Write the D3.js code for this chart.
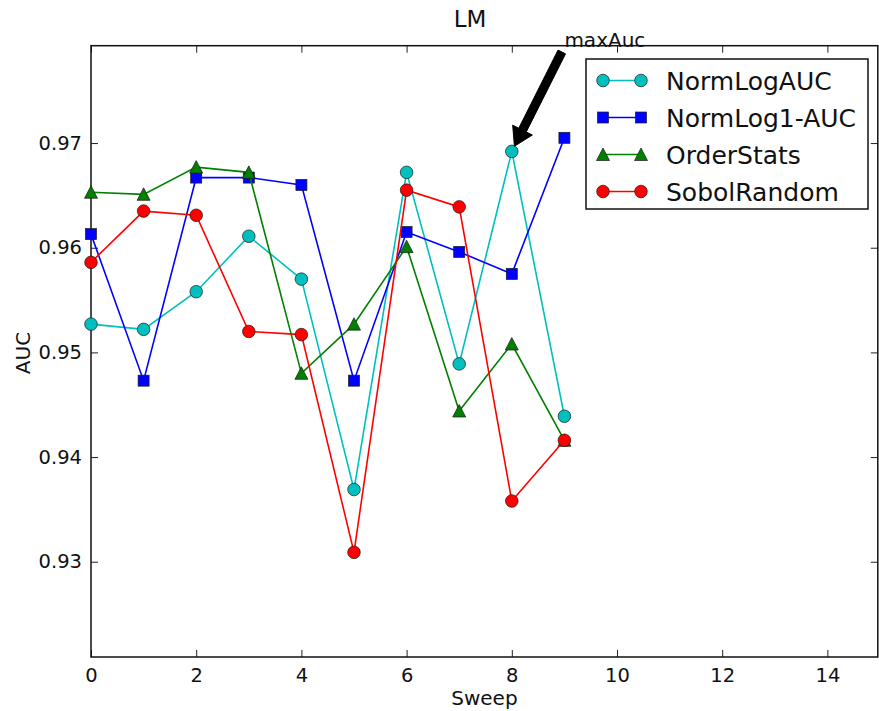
<!DOCTYPE html>
<html>

<head>
  <title>LM</title>
  <script type="text/javascript" src="https://cdn.jsdelivr.net/npm/d3@7"></script>
  <style>
    body {
      margin: 0;
      background-color: white;
    }

    svg {
      display: block;
      font-family: "DejaVu Sans", sans-serif;
    }
  </style>
</head>

<body>

  <script type="text/javascript">

    // Data
    const sweeps = [0, 1, 2, 3, 4, 5, 6, 7, 8, 9];
    const seriesNames = ["NormLogAUC", "NormLog1-AUC", "OrderStats", "SobolRandom"];
    const normLogAUC = [0.9527, 0.9522, 0.9558, 0.9611, 0.9570, 0.9369, 0.9672, 0.9489, 0.9692, 0.9439];
    const normLog1AUC = [0.9613, 0.9473, 0.9667, 0.9667, 0.9660, 0.9473, 0.9615, 0.9596, 0.9575, 0.9705];
    const orderStats = [0.9653, 0.9651, 0.9677, 0.9672, 0.9480, 0.9527, 0.9601, 0.9444, 0.9508, 0.9416];
    const sobolRandom = [0.9586, 0.9635, 0.9631, 0.9520, 0.9517, 0.9309, 0.9655, 0.9639, 0.9358, 0.9416];
    const xTicks = [0, 2, 4, 6, 8, 10, 12, 14];
    const yTicks = [0.93, 0.94, 0.95, 0.96, 0.97];

    // annotation: point (sweep 8, NormLogAUC) and text position in data units
    const annotText = "maxAuc";
    const annotPoint = [8, 0.9692];
    const annotTextPos = [9, 0.9792];

    const colors = ["#00bfbf", "#0000ff", "#008000", "#ff0000"];
    const markers = ["circle", "square", "triangle", "circle"];
    const allSeries = [normLogAUC, normLog1AUC, orderStats, sobolRandom];

    // Width og height
    const w = 879;
    const h = 711;

    const xScale = d3.scaleLinear()
      .domain([0, 15])
      .range([91, 880]);

    const yScale = d3.scaleLinear()
      .domain([0.9209, 0.9793])
      .range([657, 45.7]);

    const svg = d3.select("body")
      .append("svg")
      .attr("width", w)
      .attr("height", h);

    const plotLeft = xScale.range()[0];
    const plotRight = Math.min(xScale.range()[1], w - 1.2);
    const plotTop = yScale.range()[1];
    const plotBottom = yScale.range()[0];

    // Axes (ticks inside, like matplotlib classic)
    const xAxis = svg.append("g")
      .attr("transform", "translate(0," + plotBottom + ")")
      .call(d3.axisBottom(xScale).tickValues(xTicks).tickSize(-7).tickPadding(9).tickFormat(d3.format("d")));

    svg.append("g")
      .attr("transform", "translate(0," + plotTop + ")")
      .call(d3.axisTop(xScale).tickValues(xTicks).tickSize(-7).tickFormat(""));

    svg.append("g")
      .attr("transform", "translate(" + plotLeft + ",0)")
      .call(d3.axisLeft(yScale).tickValues(yTicks).tickSize(-7).tickPadding(9).tickFormat(d3.format(".2f")));

    svg.append("g")
      .attr("transform", "translate(" + plotRight + ",0)")
      .call(d3.axisRight(yScale).tickValues(yTicks).tickSize(-7).tickFormat(""));

    svg.selectAll(".domain").remove();
    svg.selectAll(".tick line").attr("stroke", "#222").attr("stroke-width", 1);
    svg.selectAll(".tick text")
      .attr("font-family", "DejaVu Sans, sans-serif")
      .attr("font-size", "19.5px")
      .attr("fill", "#111");
    xAxis.selectAll(".tick text").attr("dy", "0.8em");

    // Axis frame
    svg.append("rect")
      .attr("x", plotLeft)
      .attr("y", plotTop)
      .attr("width", plotRight - plotLeft)
      .attr("height", plotBottom - plotTop)
      .attr("fill", "none")
      .attr("stroke", "#111")
      .attr("stroke-width", 1.5);

    // Marker helper
    function drawMarker(g, type, x, y, color) {
      if (type === "circle") {
        g.append("circle")
          .attr("cx", x).attr("cy", y).attr("r", 6.3)
          .attr("fill", color).attr("stroke", "#1a1a1a").attr("stroke-width", 0.7);
      } else if (type === "square") {
        g.append("rect")
          .attr("x", x - 5.5).attr("y", y - 5.5).attr("width", 11).attr("height", 11)
          .attr("fill", color).attr("stroke", "#1a1a1a").attr("stroke-width", 0.7);
      } else {
        g.append("path")
          .attr("d", "M" + x + "," + (y - 6.5) + "L" + (x + 6.5) + "," + (y + 6) + "L" + (x - 6.5) + "," + (y + 6) + "Z")
          .attr("fill", color).attr("stroke", "#1a1a1a").attr("stroke-width", 0.7);
      }
    }

    const line = d3.line()
      .x(function (d, i) { return xScale(sweeps[i]); })
      .y(function (d) { return yScale(d); });

    // Lines and markers
    allSeries.forEach(function (values, s) {
      const g = svg.append("g").attr("class", "series");
      g.append("path")
        .datum(values)
        .attr("d", line)
        .attr("fill", "none")
        .attr("stroke", colors[s])
        .attr("stroke-width", 1.6);
      values.forEach(function (v, i) {
        drawMarker(g, markers[s], xScale(sweeps[i]), yScale(v), colors[s]);
      });
    });

    // Annotation arrow
    const px = xScale(annotPoint[0]), py = yScale(annotPoint[1]);
    const tx = xScale(annotTextPos[0]), ty = yScale(annotTextPos[1]);
    const vx = tx - px, vy = ty - py;
    const tipX = px + 0.05 * vx, tipY = py + 0.05 * vy;
    const tailX = px + 0.95 * vx, tailY = py + 0.95 * vy;
    const len = Math.sqrt((tailX - tipX) * (tailX - tipX) + (tailY - tipY) * (tailY - tipY));
    const ux = (tailX - tipX) / len, uy = (tailY - tipY) / len; // towards tail
    const nx = -uy, ny = ux;
    const shaftW = 4.2, headW = 11, headL = 18;
    const hbx = tipX + ux * headL, hby = tipY + uy * headL;
    const arrowPts = [
      [tailX + nx * shaftW, tailY + ny * shaftW],
      [hbx + nx * shaftW, hby + ny * shaftW],
      [hbx + nx * headW, hby + ny * headW],
      [tipX, tipY],
      [hbx - nx * headW, hby - ny * headW],
      [hbx - nx * shaftW, hby - ny * shaftW],
      [tailX - nx * shaftW, tailY - ny * shaftW]
    ];
    svg.append("path")
      .attr("d", "M" + arrowPts.map(function (p) { return p[0] + "," + p[1]; }).join("L") + "Z")
      .attr("fill", "black")
      .attr("stroke", "black")
      .attr("stroke-width", 1);

    svg.append("text")
      .attr("x", tx)
      .attr("y", ty)
      .attr("font-size", "20px")
      .attr("fill", "#111")
      .text(annotText);

    // Legend
    const legend = svg.append("g").attr("transform", "translate(586,59)");
    legend.append("rect")
      .attr("width", 282)
      .attr("height", 150)
      .attr("fill", "white")
      .attr("stroke", "#111")
      .attr("stroke-width", 1.5);

    seriesNames.forEach(function (name, s) {
      const ly = 21.5 + s * 37;
      legend.append("line")
        .attr("x1", 17).attr("x2", 55)
        .attr("y1", ly).attr("y2", ly)
        .attr("stroke", colors[s]).attr("stroke-width", 1.6);
      drawMarker(legend, markers[s], 17, ly, colors[s]);
      drawMarker(legend, markers[s], 55, ly, colors[s]);
      legend.append("text")
        .attr("x", 80)
        .attr("y", ly + 9)
        .attr("font-size", "25px")
        .attr("fill", "#111")
        .text(name);
    });

    // Title and axis labels
    svg.append("text")
      .attr("x", 470)
      .attr("y", 27)
      .attr("text-anchor", "middle")
      .attr("font-size", "23px")
      .attr("fill", "#111")
      .text("LM");

    svg.append("text")
      .attr("x", (plotLeft + plotRight) / 2)
      .attr("y", 705)
      .attr("text-anchor", "middle")
      .attr("font-size", "20px")
      .attr("fill", "#111")
      .text("Sweep");

    svg.append("text")
      .attr("transform", "translate(30,353) rotate(-90)")
      .attr("text-anchor", "middle")
      .attr("font-size", "20px")
      .attr("fill", "#111")
      .text("AUC");

  </script>
</body>

</html>
